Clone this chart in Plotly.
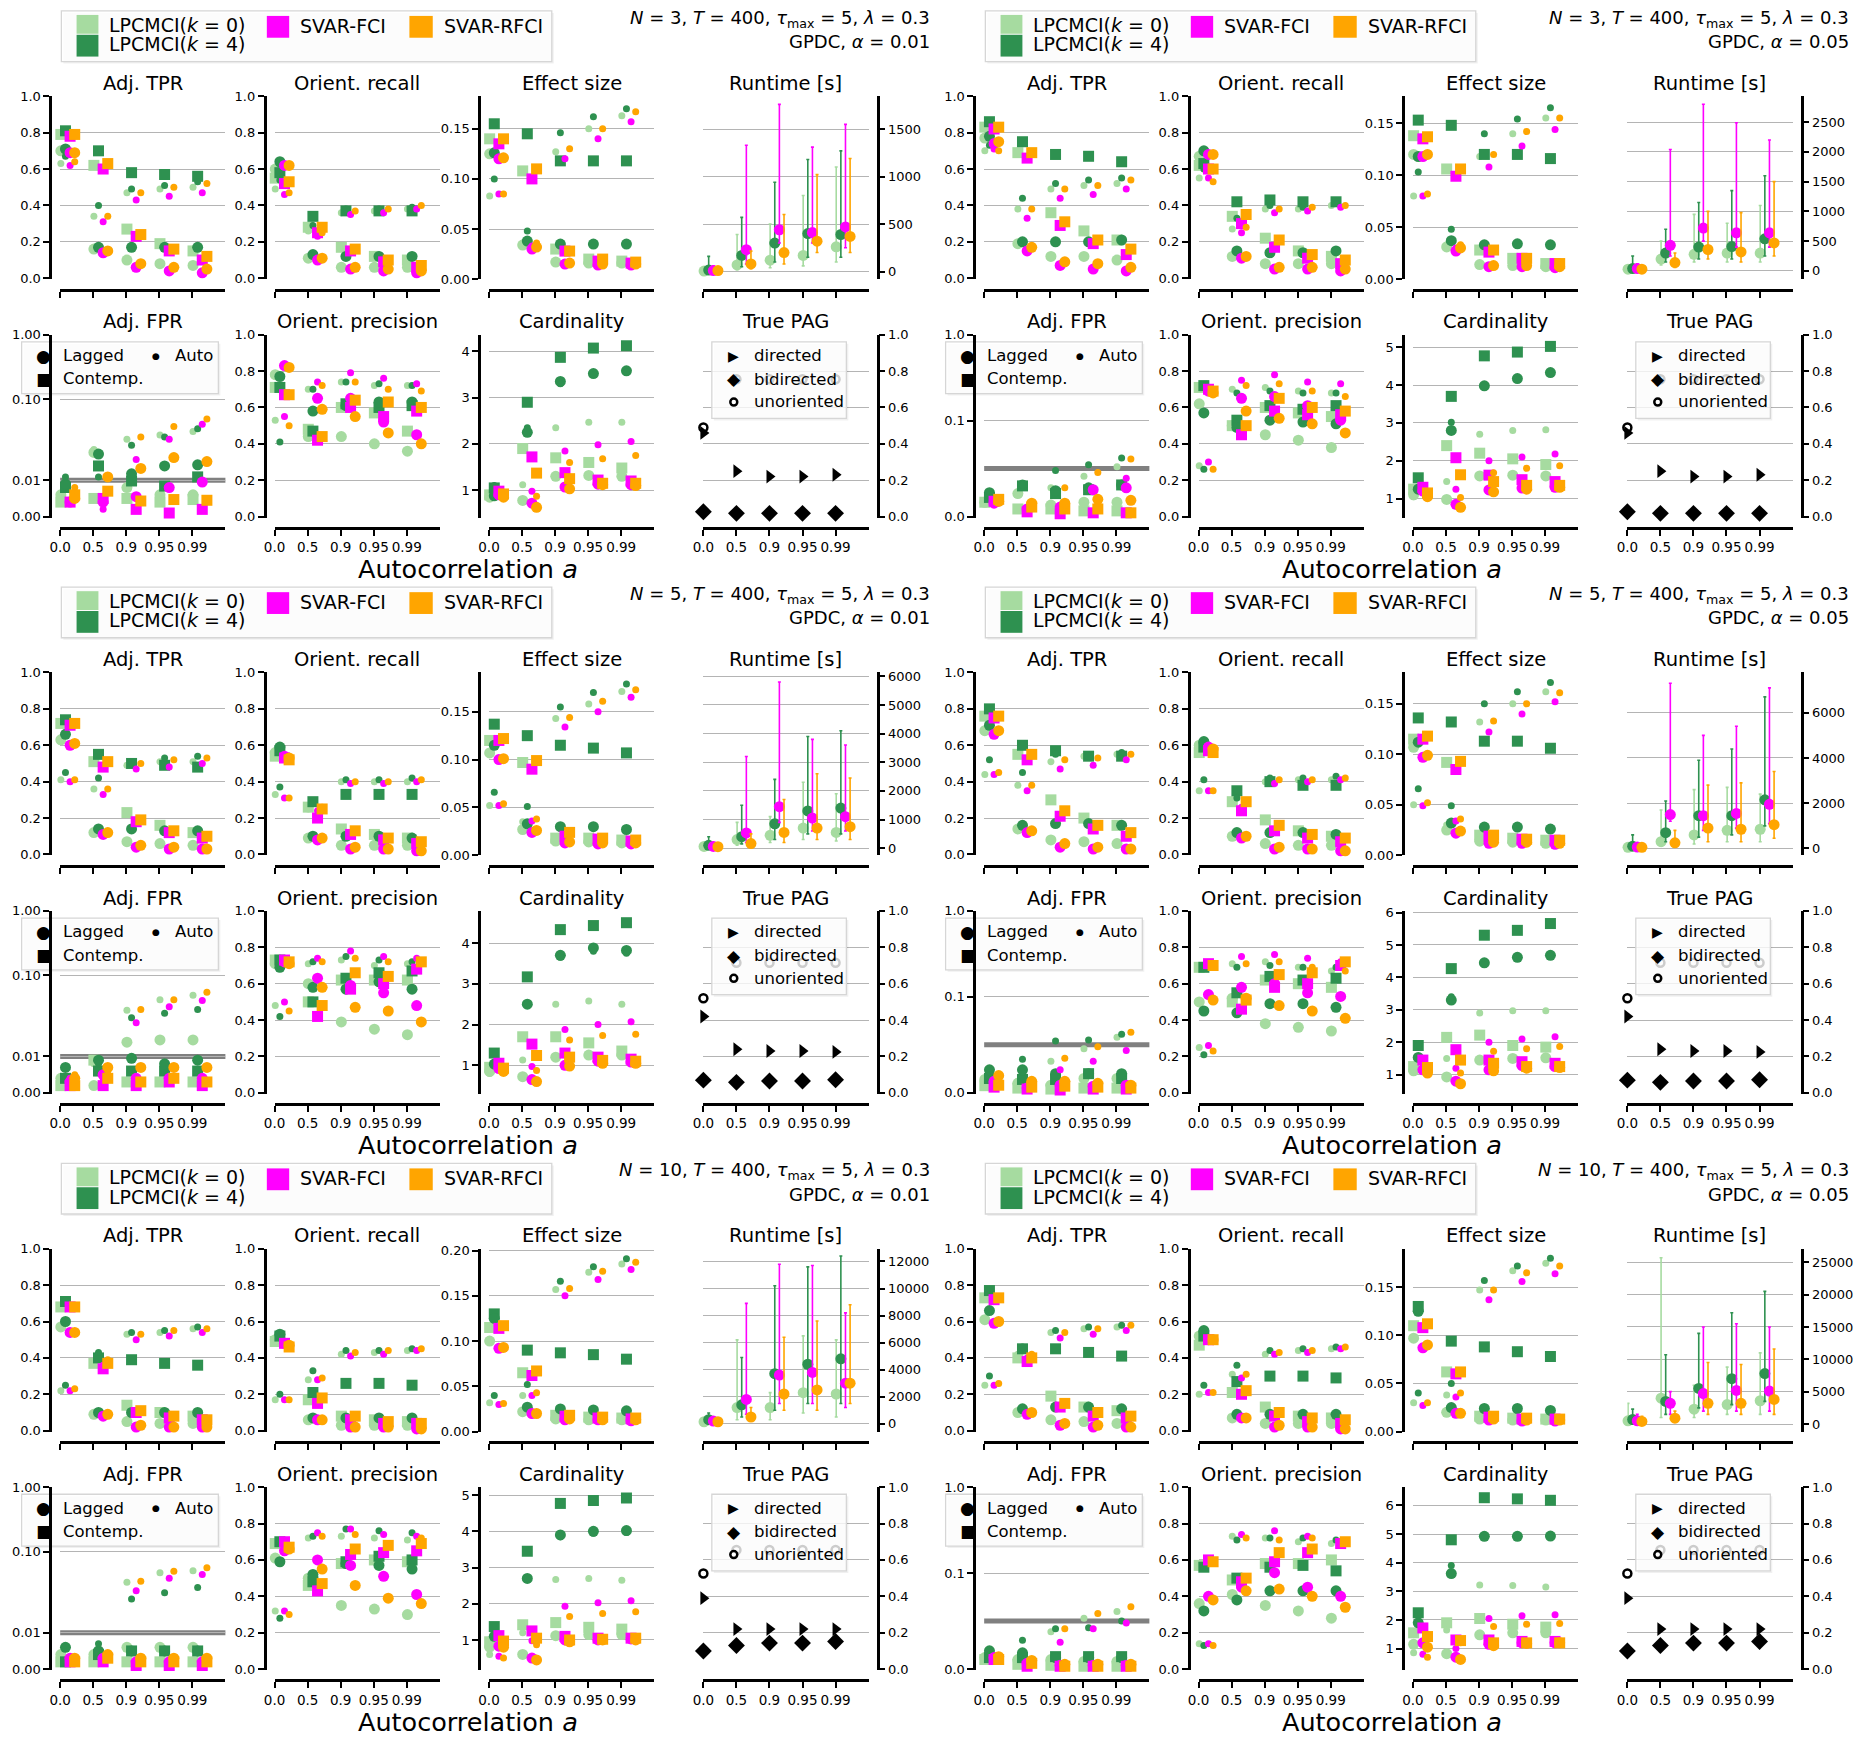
import numpy as np
import plotly.graph_objects as go

W, H = 1853, 1740
FONT = "DejaVu Sans"

A_LABELS = ["0.0", "0.5", "0.9", "0.95", "0.99"]
METHOD_NAMES = ["LPCMCI(<i>k</i> = 0)", "LPCMCI(<i>k</i> = 4)", "SVAR-FCI", "SVAR-RFCI"]
METHOD_COLORS = ["#a6dba0", "#2e9150", "#ff00ff", "#ffa500"]
METHOD_SHIFT = [0.02, 0.16, 0.30, 0.44]

# rows: LPCMCI(k=0), LPCMCI(k=4), SVAR-FCI, SVAR-RFCI ; columns: a = 0.0, 0.5, 0.9, 0.95, 0.99

#%% N=3, alpha=0.01
N3_A01_TPR_LAG = [[0.70, 0.16, 0.10, 0.08, 0.07], [0.71, 0.17, 0.17, 0.17, 0.17], [0.69, 0.14, 0.06, 0.04, 0.03], [0.69, 0.15, 0.08, 0.06, 0.05]]
N3_A01_TPR_CON = [[0.79, 0.62, 0.27, 0.19, 0.15], [0.81, 0.70, 0.58, 0.57, 0.56], [0.78, 0.60, 0.23, 0.15, 0.10], [0.79, 0.63, 0.24, 0.16, 0.12]]
N3_A01_TPR_AUTO = [[0.63, 0.34, 0.47, 0.49, 0.50], [0.67, 0.40, 0.49, 0.51, 0.53], [0.62, 0.31, 0.43, 0.45, 0.47], [0.64, 0.34, 0.47, 0.50, 0.52]]
N3_A01_REC_LAG = [[0.60, 0.11, 0.06, 0.06, 0.06], [0.64, 0.13, 0.12, 0.12, 0.12], [0.62, 0.10, 0.05, 0.04, 0.03], [0.62, 0.11, 0.06, 0.05, 0.04]]
N3_A01_REC_CON = [[0.55, 0.28, 0.17, 0.12, 0.10], [0.58, 0.34, 0.37, 0.37, 0.37], [0.52, 0.25, 0.15, 0.09, 0.06], [0.53, 0.28, 0.16, 0.10, 0.07]]
N3_A01_REC_AUTO = [[0.49, 0.26, 0.36, 0.37, 0.38], [0.54, 0.29, 0.38, 0.38, 0.39], [0.46, 0.23, 0.35, 0.36, 0.38], [0.47, 0.25, 0.37, 0.38, 0.40]]
N3_A01_EFF_LAG = [[0.125, 0.034, 0.017, 0.016, 0.016], [0.126, 0.038, 0.035, 0.035, 0.035], [0.120, 0.030, 0.015, 0.014, 0.014], [0.121, 0.032, 0.016, 0.015, 0.015]]
N3_A01_EFF_CON = [[0.140, 0.108, 0.030, 0.020, 0.018], [0.155, 0.145, 0.118, 0.118, 0.118], [0.135, 0.100, 0.028, 0.018, 0.016], [0.140, 0.110, 0.028, 0.020, 0.017]]
N3_A01_EFF_AUTO = [[0.083, 0.036, 0.127, 0.150, 0.163], [0.100, 0.048, 0.146, 0.162, 0.170], [0.085, 0.033, 0.120, 0.140, 0.157], [0.085, 0.036, 0.130, 0.150, 0.167]]
N3_A01_RT_MEAN = [[5, 70, 120, 170, 260], [15, 170, 300, 400, 390], [10, 230, 440, 410, 470], [10, 80, 200, 320, 370]]
N3_A01_RT_HI = [[40, 390, 500, 800, 1100], [160, 570, 940, 1180, 1270], [60, 1330, 1760, 1310, 1550], [40, 215, 600, 1020, 1190]]
N3_A01_RT_LO = [[0, 20, 40, 60, 100], [0, 50, 100, 150, 150], [0, 80, 300, 300, 250], [0, 30, 80, 200, 200]]
N3_A01_FPR_LAG = [[0.006, 0.022, 0.008, 0.006, 0.006], [0.009, 0.021, 0.012, 0.015, 0.0155], [0.004, 0.004, 0.0055, 0.008, 0.0095], [0.005, 0.011, 0.014, 0.019, 0.017]]
N3_A01_FPR_CON = [[0.004, 0.005, 0.005, 0.004, 0.0047], [0.008, 0.015, 0.0098, 0.0084, 0.011], [0.004, 0.005, 0.002, 0.001, 0.002], [0.006, 0.007, 0.0043, 0.0047, 0.0045]]
N3_A01_FPR_AUTO = [[0.005, 0.024, 0.032, 0.036, 0.040], [0.011, 0.011, 0.027, 0.034, 0.043], [0.004, 0.002, 0.018, 0.032, 0.049], [0.008, 0.007, 0.034, 0.046, 0.057]]
N3_A01_PREC_LAG = [[0.78, 0.44, 0.44, 0.40, 0.36], [0.77, 0.58, 0.61, 0.63, 0.63], [0.83, 0.65, 0.65, 0.52, 0.45], [0.82, 0.59, 0.55, 0.46, 0.40]]
N3_A01_PREC_CON = [[0.71, 0.48, 0.60, 0.57, 0.47], [0.71, 0.47, 0.62, 0.60, 0.61], [0.67, 0.42, 0.60, 0.55, 0.58], [0.67, 0.44, 0.64, 0.63, 0.60]]
N3_A01_PREC_AUTO = [[0.53, 0.70, 0.74, 0.72, 0.72], [0.41, 0.70, 0.74, 0.73, 0.72], [0.55, 0.74, 0.79, 0.76, 0.73], [0.50, 0.72, 0.74, 0.70, 0.69]]
N3_A01_CARD_LAG = [[0.85, 0.78, 1.30, 1.32, 1.30], [0.88, 2.25, 3.35, 3.52, 3.58], [0.90, 0.72, 1.07, 1.13, 1.12], [0.85, 0.63, 1.03, 1.12, 1.10]]
N3_A01_CARD_CON = [[0.90, 1.90, 1.70, 1.60, 1.48], [1.05, 2.90, 3.87, 4.07, 4.12], [0.98, 1.72, 1.38, 1.22, 1.20], [0.92, 1.37, 1.25, 1.15, 1.15]]
N3_A01_CARD_AUTO = [[0.85, 1.12, 2.35, 2.47, 2.47], [1.10, 2.35, 3.30, 3.50, 3.55], [0.90, 0.98, 1.85, 1.98, 2.05], [0.86, 0.87, 1.60, 1.68, 1.75]]

#%% N=3, alpha=0.05
N3_A05_TPR_LAG = [[0.77, 0.19, 0.12, 0.12, 0.10], [0.78, 0.20, 0.20, 0.20, 0.21], [0.74, 0.15, 0.07, 0.05, 0.04], [0.75, 0.17, 0.09, 0.08, 0.06]]
N3_A05_TPR_CON = [[0.83, 0.69, 0.36, 0.26, 0.21], [0.86, 0.75, 0.68, 0.67, 0.64], [0.82, 0.66, 0.29, 0.19, 0.13], [0.83, 0.69, 0.31, 0.21, 0.16]]
N3_A05_TPR_AUTO = [[0.70, 0.38, 0.49, 0.51, 0.52], [0.73, 0.44, 0.52, 0.54, 0.55], [0.71, 0.33, 0.44, 0.46, 0.49], [0.70, 0.38, 0.49, 0.51, 0.54]]
N3_A05_REC_LAG = [[0.67, 0.12, 0.08, 0.08, 0.08], [0.70, 0.15, 0.14, 0.14, 0.15], [0.68, 0.11, 0.05, 0.05, 0.04], [0.68, 0.12, 0.06, 0.06, 0.05]]
N3_A05_REC_CON = [[0.62, 0.34, 0.22, 0.15, 0.12], [0.63, 0.42, 0.43, 0.42, 0.42], [0.60, 0.30, 0.17, 0.11, 0.08], [0.60, 0.35, 0.21, 0.13, 0.10]]
N3_A05_REC_AUTO = [[0.55, 0.27, 0.38, 0.38, 0.40], [0.60, 0.33, 0.40, 0.39, 0.41], [0.55, 0.25, 0.36, 0.37, 0.39], [0.53, 0.28, 0.38, 0.39, 0.40]]
N3_A05_EFF_LAG = [[0.120, 0.031, 0.014, 0.013, 0.012], [0.118, 0.037, 0.033, 0.034, 0.033], [0.118, 0.027, 0.012, 0.012, 0.011], [0.120, 0.030, 0.013, 0.013, 0.012]]
N3_A05_EFF_CON = [[0.138, 0.106, 0.028, 0.020, 0.015], [0.153, 0.148, 0.120, 0.120, 0.116], [0.135, 0.099, 0.026, 0.020, 0.015], [0.137, 0.106, 0.028, 0.020, 0.015]]
N3_A05_EFF_AUTO = [[0.080, 0.033, 0.118, 0.140, 0.155], [0.103, 0.048, 0.140, 0.154, 0.165], [0.080, 0.030, 0.108, 0.128, 0.144], [0.082, 0.033, 0.120, 0.142, 0.155]]
N3_A05_RT_MEAN = [[30, 200, 280, 300, 300], [40, 300, 400, 410, 540], [40, 430, 720, 640, 640], [30, 140, 360, 320, 470]]
N3_A05_RT_HI = [[80, 500, 950, 800, 1100], [250, 700, 1150, 1350, 1600], [120, 2040, 2800, 2490, 2200], [80, 300, 1000, 980, 1500]]
N3_A05_RT_LO = [[0, 100, 150, 150, 150], [0, 150, 200, 200, 250], [0, 250, 500, 400, 400], [0, 60, 200, 150, 250]]
N3_A05_FPR_LAG = [[0.015, 0.024, 0.012, 0.015, 0.015], [0.025, 0.033, 0.027, 0.030, 0.033], [0.014, 0.008, 0.010, 0.028, 0.030], [0.016, 0.014, 0.014, 0.018, 0.017]]
N3_A05_FPR_CON = [[0.015, 0.008, 0.008, 0.006, 0.006], [0.020, 0.032, 0.024, 0.028, 0.033], [0.016, 0.005, 0.003, 0.004, 0.004], [0.018, 0.010, 0.008, 0.008, 0.004]]
N3_A05_FPR_AUTO = [[0.017, 0.025, 0.030, 0.042, 0.052], [0.020, 0.033, 0.048, 0.054, 0.061], [0.015, 0.006, 0.010, 0.027, 0.040], [0.020, 0.014, 0.030, 0.046, 0.060]]
N3_A05_PREC_LAG = [[0.62, 0.50, 0.45, 0.42, 0.38], [0.57, 0.49, 0.53, 0.52, 0.51], [0.69, 0.65, 0.66, 0.61, 0.53], [0.68, 0.58, 0.54, 0.51, 0.46]]
N3_A05_PREC_CON = [[0.71, 0.50, 0.60, 0.57, 0.55], [0.72, 0.53, 0.61, 0.59, 0.61], [0.70, 0.45, 0.58, 0.56, 0.56], [0.69, 0.50, 0.65, 0.60, 0.58]]
N3_A05_PREC_AUTO = [[0.28, 0.70, 0.71, 0.69, 0.68], [0.26, 0.68, 0.69, 0.68, 0.68], [0.30, 0.75, 0.78, 0.74, 0.73], [0.26, 0.72, 0.73, 0.69, 0.66]]
N3_A05_CARD_LAG = [[1.10, 0.98, 1.60, 1.62, 1.60], [1.25, 2.80, 3.98, 4.17, 4.33], [1.20, 0.85, 1.23, 1.28, 1.30], [1.05, 0.77, 1.18, 1.25, 1.30]]
N3_A05_CARD_CON = [[1.25, 2.40, 2.20, 2.05, 1.90], [1.55, 3.70, 4.77, 4.87, 5.02], [1.30, 2.08, 1.62, 1.50, 1.45], [1.15, 1.63, 1.45, 1.35, 1.35]]
N3_A05_CARD_AUTO = [[1.05, 1.45, 2.70, 2.80, 2.82], [1.30, 3.02, 3.95, 4.15, 4.30], [1.20, 1.25, 2.00, 2.10, 2.18], [1.10, 1.03, 1.68, 1.80, 1.87]]

#%% N=5, alpha=0.01
N5_A01_TPR_LAG = [[0.63, 0.12, 0.07, 0.06, 0.05], [0.66, 0.14, 0.14, 0.13, 0.13], [0.60, 0.11, 0.04, 0.03, 0.03], [0.61, 0.12, 0.05, 0.04, 0.03]]
N5_A01_TPR_CON = [[0.72, 0.51, 0.23, 0.16, 0.12], [0.74, 0.55, 0.50, 0.49, 0.48], [0.71, 0.48, 0.18, 0.12, 0.09], [0.72, 0.51, 0.19, 0.13, 0.10]]
N5_A01_TPR_AUTO = [[0.41, 0.36, 0.49, 0.51, 0.51], [0.45, 0.42, 0.51, 0.53, 0.54], [0.40, 0.33, 0.47, 0.48, 0.50], [0.41, 0.36, 0.50, 0.52, 0.53]]
N5_A01_REC_LAG = [[0.56, 0.09, 0.05, 0.05, 0.05], [0.59, 0.10, 0.10, 0.10, 0.09], [0.54, 0.08, 0.03, 0.03, 0.02], [0.53, 0.09, 0.04, 0.03, 0.02]]
N5_A01_REC_CON = [[0.54, 0.26, 0.14, 0.11, 0.09], [0.57, 0.29, 0.33, 0.33, 0.33], [0.53, 0.20, 0.11, 0.08, 0.06], [0.52, 0.25, 0.13, 0.09, 0.07]]
N5_A01_REC_AUTO = [[0.33, 0.25, 0.40, 0.40, 0.40], [0.37, 0.28, 0.41, 0.41, 0.42], [0.31, 0.24, 0.39, 0.39, 0.40], [0.31, 0.26, 0.40, 0.40, 0.41]]
N5_A01_EFF_LAG = [[0.107, 0.027, 0.015, 0.014, 0.013], [0.115, 0.033, 0.030, 0.030, 0.027], [0.100, 0.024, 0.013, 0.012, 0.012], [0.101, 0.026, 0.014, 0.013, 0.013]]
N5_A01_EFF_CON = [[0.120, 0.097, 0.018, 0.018, 0.016], [0.137, 0.125, 0.115, 0.112, 0.107], [0.120, 0.090, 0.020, 0.017, 0.015], [0.122, 0.099, 0.024, 0.018, 0.016]]
N5_A01_EFF_AUTO = [[0.052, 0.035, 0.143, 0.158, 0.171], [0.066, 0.051, 0.155, 0.170, 0.179], [0.052, 0.036, 0.134, 0.150, 0.165], [0.054, 0.038, 0.144, 0.161, 0.173]]
N5_A01_RT_MEAN = [[60, 300, 450, 700, 550], [100, 400, 850, 1300, 1400], [60, 530, 1450, 1050, 1100], [50, 160, 550, 700, 750]]
N5_A01_RT_HI = [[150, 900, 1100, 2300, 1900], [400, 1500, 2400, 3900, 4100], [200, 3200, 5800, 3800, 3600], [150, 500, 1700, 2600, 2450]]
N5_A01_RT_LO = [[0, 100, 200, 300, 250], [0, 150, 300, 500, 500], [0, 200, 900, 600, 600], [0, 50, 200, 300, 300]]
N5_A01_FPR_LAG = [[0.004, 0.002, 0.015, 0.016, 0.016], [0.007, 0.009, 0.0095, 0.008, 0.009], [0.003, 0.005, 0.004, 0.004, 0.004], [0.004, 0.007, 0.007, 0.007, 0.007]]
N5_A01_FPR_CON = [[0.002, 0.009, 0.003, 0.003, 0.003], [0.004, 0.006, 0.006, 0.006, 0.006], [0.002, 0.002, 0.002, 0.003, 0.002], [0.002, 0.004, 0.003, 0.004, 0.003]]
N5_A01_FPR_AUTO = [[0.004, 0.008, 0.037, 0.050, 0.057], [0.007, 0.008, 0.030, 0.034, 0.038], [0.004, 0.004, 0.026, 0.041, 0.049], [0.005, 0.006, 0.038, 0.050, 0.062]]
N5_A01_PREC_LAG = [[0.71, 0.60, 0.39, 0.35, 0.32], [0.69, 0.58, 0.57, 0.61, 0.57], [0.72, 0.63, 0.59, 0.55, 0.48], [0.71, 0.58, 0.47, 0.45, 0.39]]
N5_A01_PREC_CON = [[0.73, 0.50, 0.62, 0.62, 0.62], [0.73, 0.50, 0.63, 0.66, 0.67], [0.73, 0.42, 0.57, 0.60, 0.68], [0.72, 0.48, 0.66, 0.64, 0.72]]
N5_A01_PREC_AUTO = [[0.48, 0.71, 0.73, 0.70, 0.71], [0.42, 0.72, 0.75, 0.73, 0.72], [0.50, 0.74, 0.78, 0.75, 0.74], [0.45, 0.72, 0.74, 0.72, 0.71]]
N5_A01_CARD_LAG = [[0.85, 0.72, 1.20, 1.25, 1.25], [1.03, 2.50, 3.70, 3.88, 3.82], [0.92, 0.65, 1.00, 1.10, 1.08], [0.85, 0.60, 0.98, 1.05, 1.05]]
N5_A01_CARD_CON = [[0.95, 1.70, 1.70, 1.55, 1.35], [1.30, 3.17, 4.33, 4.43, 4.50], [1.05, 1.52, 1.30, 1.20, 1.15], [0.93, 1.24, 1.20, 1.12, 1.10]]
N5_A01_CARD_AUTO = [[0.80, 1.13, 2.50, 2.58, 2.50], [1.05, 2.50, 3.65, 3.80, 3.75], [0.90, 0.97, 1.88, 2.00, 2.07], [0.85, 0.87, 1.62, 1.73, 1.76]]

#%% N=5, alpha=0.05
N5_A05_TPR_LAG = [[0.68, 0.14, 0.08, 0.07, 0.06], [0.71, 0.16, 0.17, 0.17, 0.16], [0.66, 0.12, 0.04, 0.03, 0.03], [0.68, 0.13, 0.06, 0.04, 0.03]]
N5_A05_TPR_CON = [[0.76, 0.55, 0.30, 0.20, 0.16], [0.80, 0.60, 0.57, 0.54, 0.54], [0.75, 0.52, 0.21, 0.14, 0.10], [0.76, 0.55, 0.24, 0.16, 0.12]]
N5_A05_TPR_AUTO = [[0.44, 0.38, 0.51, 0.54, 0.55], [0.52, 0.45, 0.55, 0.54, 0.56], [0.44, 0.35, 0.47, 0.49, 0.52], [0.45, 0.38, 0.52, 0.53, 0.55]]
N5_A05_REC_LAG = [[0.60, 0.10, 0.06, 0.05, 0.05], [0.62, 0.12, 0.12, 0.12, 0.11], [0.59, 0.09, 0.03, 0.03, 0.02], [0.58, 0.10, 0.04, 0.03, 0.02]]
N5_A05_REC_CON = [[0.56, 0.29, 0.19, 0.13, 0.10], [0.59, 0.35, 0.40, 0.38, 0.38], [0.57, 0.24, 0.13, 0.09, 0.07], [0.56, 0.29, 0.16, 0.11, 0.09]]
N5_A05_REC_AUTO = [[0.35, 0.28, 0.40, 0.41, 0.41], [0.41, 0.31, 0.42, 0.42, 0.43], [0.35, 0.26, 0.39, 0.40, 0.41], [0.35, 0.28, 0.41, 0.41, 0.42]]
N5_A05_EFF_LAG = [[0.107, 0.025, 0.014, 0.013, 0.012], [0.112, 0.032, 0.028, 0.028, 0.026], [0.097, 0.022, 0.012, 0.012, 0.011], [0.099, 0.024, 0.013, 0.013, 0.012]]
N5_A05_EFF_CON = [[0.115, 0.092, 0.020, 0.017, 0.015], [0.136, 0.132, 0.113, 0.113, 0.106], [0.115, 0.085, 0.019, 0.016, 0.015], [0.118, 0.093, 0.020, 0.016, 0.015]]
N5_A05_EFF_AUTO = [[0.050, 0.030, 0.132, 0.150, 0.162], [0.066, 0.049, 0.150, 0.162, 0.171], [0.049, 0.034, 0.122, 0.140, 0.152], [0.052, 0.036, 0.133, 0.150, 0.161]]
N5_A05_RT_MEAN = [[50, 300, 600, 800, 850], [100, 700, 1450, 1450, 2150], [60, 1500, 1450, 1550, 1950], [50, 250, 900, 850, 1050]]
N5_A05_RT_HI = [[200, 1700, 2600, 2700, 2400], [600, 2100, 3900, 4400, 6700], [250, 7300, 5000, 5400, 7100], [150, 800, 2800, 2900, 3400]]
N5_A05_RT_LO = [[0, 100, 200, 300, 300], [0, 300, 500, 600, 1000], [0, 1200, 800, 900, 1100], [0, 100, 300, 300, 450]]
N5_A05_FPR_LAG = [[0.014, 0.010, 0.008, 0.015, 0.015], [0.024, 0.024, 0.020, 0.020, 0.020], [0.012, 0.005, 0.008, 0.007, 0.008], [0.018, 0.012, 0.012, 0.010, 0.008]]
N5_A05_FPR_CON = [[0.0075, 0.005, 0.004, 0.005, 0.005], [0.015, 0.014, 0.014, 0.020, 0.015], [0.006, 0.004, 0.003, 0.004, 0.004], [0.008, 0.006, 0.007, 0.006, 0.005]]
N5_A05_FPR_AUTO = [[0.012, 0.012, 0.033, 0.046, 0.058], [0.015, 0.035, 0.054, 0.055, 0.061], [0.012, 0.006, 0.024, 0.033, 0.044], [0.014, 0.012, 0.036, 0.048, 0.063]]
N5_A05_PREC_LAG = [[0.50, 0.52, 0.38, 0.36, 0.34], [0.45, 0.44, 0.49, 0.49, 0.47], [0.54, 0.58, 0.60, 0.55, 0.53], [0.51, 0.52, 0.48, 0.45, 0.41]]
N5_A05_PREC_CON = [[0.69, 0.50, 0.62, 0.60, 0.58], [0.69, 0.55, 0.64, 0.62, 0.63], [0.71, 0.46, 0.58, 0.60, 0.70], [0.70, 0.51, 0.65, 0.66, 0.72]]
N5_A05_PREC_AUTO = [[0.25, 0.71, 0.72, 0.69, 0.67], [0.21, 0.69, 0.70, 0.69, 0.69], [0.26, 0.75, 0.76, 0.74, 0.72], [0.23, 0.71, 0.72, 0.69, 0.67]]
N5_A05_CARD_LAG = [[1.12, 0.93, 1.45, 1.50, 1.52], [1.53, 3.30, 4.45, 4.62, 4.68], [1.15, 0.80, 1.15, 1.28, 1.25], [1.05, 0.72, 1.12, 1.20, 1.22]]
N5_A05_CARD_CON = [[1.25, 2.15, 2.22, 1.90, 1.85], [1.90, 4.27, 5.30, 5.45, 5.66], [1.45, 1.77, 1.45, 1.40, 1.35], [1.22, 1.45, 1.35, 1.25, 1.25]]
N5_A05_CARD_AUTO = [[1.15, 1.50, 2.90, 2.97, 2.97], [1.90, 3.40, 4.40, 4.60, 4.65], [1.20, 1.20, 2.00, 2.10, 2.17], [1.10, 1.05, 1.72, 1.80, 1.87]]

#%% N=10, alpha=0.01
N10_A01_TPR_LAG = [[0.57, 0.09, 0.05, 0.04, 0.04], [0.60, 0.10, 0.10, 0.10, 0.10], [0.54, 0.08, 0.02, 0.02, 0.02], [0.54, 0.09, 0.03, 0.02, 0.02]]
N10_A01_TPR_CON = [[0.68, 0.37, 0.14, 0.10, 0.08], [0.71, 0.40, 0.39, 0.37, 0.36], [0.68, 0.34, 0.10, 0.07, 0.06], [0.68, 0.37, 0.11, 0.08, 0.06]]
N10_A01_TPR_AUTO = [[0.22, 0.38, 0.53, 0.54, 0.56], [0.25, 0.43, 0.54, 0.55, 0.57], [0.22, 0.36, 0.50, 0.52, 0.54], [0.23, 0.39, 0.53, 0.55, 0.56]]
N10_A01_REC_LAG = [[0.50, 0.06, 0.03, 0.03, 0.03], [0.53, 0.07, 0.07, 0.07, 0.07], [0.48, 0.06, 0.02, 0.02, 0.01], [0.47, 0.06, 0.02, 0.02, 0.01]]
N10_A01_REC_CON = [[0.49, 0.17, 0.08, 0.06, 0.05], [0.52, 0.21, 0.26, 0.26, 0.25], [0.48, 0.15, 0.06, 0.04, 0.04], [0.46, 0.18, 0.08, 0.05, 0.04]]
N10_A01_REC_AUTO = [[0.17, 0.28, 0.42, 0.43, 0.44], [0.20, 0.33, 0.44, 0.44, 0.45], [0.17, 0.28, 0.41, 0.42, 0.44], [0.17, 0.29, 0.43, 0.44, 0.45]]
N10_A01_EFF_LAG = [[0.100, 0.022, 0.014, 0.013, 0.013], [0.125, 0.027, 0.025, 0.024, 0.023], [0.092, 0.020, 0.013, 0.013, 0.012], [0.093, 0.020, 0.014, 0.013, 0.013]]
N10_A01_EFF_CON = [[0.115, 0.065, 0.018, 0.016, 0.015], [0.130, 0.090, 0.087, 0.085, 0.080], [0.114, 0.062, 0.017, 0.015, 0.014], [0.117, 0.067, 0.018, 0.016, 0.015]]
N10_A01_EFF_AUTO = [[0.032, 0.040, 0.157, 0.176, 0.185], [0.040, 0.052, 0.166, 0.182, 0.191], [0.030, 0.040, 0.150, 0.168, 0.179], [0.031, 0.043, 0.158, 0.177, 0.187]]
N10_A01_RT_MEAN = [[150, 1200, 1200, 2300, 2200], [300, 1400, 3700, 4400, 4800], [200, 1800, 3600, 3800, 3000], [150, 500, 2200, 2500, 3000]]
N10_A01_RT_HI = [[400, 6200, 2300, 6500, 6200], [800, 4900, 10200, 11600, 12400], [500, 8900, 11800, 11700, 8200], [400, 1200, 6400, 7600, 8800]]
N10_A01_RT_LO = [[0, 300, 300, 800, 500], [0, 500, 1000, 1500, 1500], [0, 700, 1500, 1500, 1200], [0, 200, 1000, 1000, 1500]]
N10_A01_FPR_LAG = [[0.004, 0.004, 0.006, 0.006, 0.006], [0.006, 0.005, 0.005, 0.005, 0.005], [0.003, 0.003, 0.002, 0.002, 0.002], [0.003, 0.004, 0.003, 0.003, 0.003]]
N10_A01_FPR_CON = [[0.002, 0.002, 0.002, 0.002, 0.002], [0.002, 0.004, 0.005, 0.005, 0.005], [0.002, 0.002, 0.001, 0.001, 0.001], [0.002, 0.003, 0.002, 0.002, 0.002]]
N10_A01_FPR_AUTO = [[0.004, 0.004, 0.042, 0.055, 0.058], [0.006, 0.007, 0.026, 0.031, 0.036], [0.003, 0.003, 0.033, 0.047, 0.052], [0.003, 0.004, 0.043, 0.057, 0.063]]
N10_A01_PREC_LAG = [[0.61, 0.50, 0.35, 0.33, 0.30], [0.59, 0.52, 0.58, 0.57, 0.55], [0.65, 0.60, 0.57, 0.51, 0.41], [0.66, 0.55, 0.46, 0.39, 0.36]]
N10_A01_PREC_CON = [[0.69, 0.46, 0.58, 0.60, 0.59], [0.70, 0.48, 0.59, 0.62, 0.60], [0.70, 0.43, 0.63, 0.64, 0.65], [0.67, 0.47, 0.66, 0.68, 0.69]]
N10_A01_PREC_AUTO = [[0.32, 0.72, 0.73, 0.72, 0.71], [0.28, 0.73, 0.77, 0.76, 0.75], [0.32, 0.75, 0.77, 0.74, 0.73], [0.30, 0.73, 0.74, 0.69, 0.72]]
N10_A01_CARD_LAG = [[0.80, 0.60, 1.12, 1.15, 1.15], [1.10, 2.70, 3.90, 4.00, 4.02], [0.83, 0.50, 1.00, 1.00, 1.03], [0.80, 0.45, 0.95, 1.00, 1.00]]
N10_A01_CARD_CON = [[0.95, 1.42, 1.48, 1.35, 1.30], [1.37, 3.45, 4.77, 4.85, 4.92], [1.12, 1.25, 1.10, 1.05, 1.05], [0.97, 1.05, 1.00, 1.02, 1.05]]
N10_A01_CARD_AUTO = [[0.60, 1.20, 2.67, 2.70, 2.65], [1.10, 2.70, 3.85, 3.95, 3.97], [0.55, 0.98, 1.93, 2.03, 2.08], [0.50, 0.87, 1.65, 1.73, 1.78]]

#%% N=10, alpha=0.05
N10_A05_TPR_LAG = [[0.61, 0.10, 0.06, 0.05, 0.04], [0.66, 0.12, 0.13, 0.13, 0.12], [0.59, 0.09, 0.03, 0.02, 0.02], [0.60, 0.10, 0.04, 0.03, 0.02]]
N10_A05_TPR_CON = [[0.73, 0.40, 0.19, 0.13, 0.11], [0.77, 0.45, 0.45, 0.43, 0.41], [0.72, 0.38, 0.13, 0.08, 0.07], [0.73, 0.40, 0.15, 0.10, 0.08]]
N10_A05_TPR_AUTO = [[0.25, 0.42, 0.54, 0.56, 0.57], [0.30, 0.46, 0.55, 0.57, 0.58], [0.25, 0.40, 0.51, 0.53, 0.55], [0.26, 0.42, 0.54, 0.56, 0.58]]
N10_A05_REC_LAG = [[0.52, 0.07, 0.04, 0.04, 0.04], [0.55, 0.09, 0.09, 0.09, 0.09], [0.50, 0.07, 0.02, 0.02, 0.01], [0.50, 0.07, 0.03, 0.02, 0.01]]
N10_A05_REC_CON = [[0.47, 0.21, 0.13, 0.08, 0.07], [0.52, 0.27, 0.30, 0.30, 0.29], [0.50, 0.20, 0.08, 0.05, 0.04], [0.50, 0.22, 0.10, 0.07, 0.06]]
N10_A05_REC_AUTO = [[0.20, 0.31, 0.42, 0.44, 0.45], [0.25, 0.36, 0.44, 0.45, 0.46], [0.21, 0.29, 0.42, 0.43, 0.45], [0.21, 0.31, 0.43, 0.44, 0.46]]
N10_A05_EFF_LAG = [[0.097, 0.020, 0.013, 0.012, 0.012], [0.125, 0.025, 0.024, 0.024, 0.022], [0.087, 0.019, 0.012, 0.011, 0.011], [0.090, 0.019, 0.013, 0.012, 0.012]]
N10_A05_EFF_CON = [[0.110, 0.062, 0.016, 0.014, 0.013], [0.130, 0.094, 0.088, 0.083, 0.078], [0.108, 0.060, 0.015, 0.013, 0.013], [0.112, 0.062, 0.016, 0.014, 0.013]]
N10_A05_EFF_AUTO = [[0.030, 0.038, 0.147, 0.167, 0.175], [0.040, 0.050, 0.157, 0.172, 0.180], [0.027, 0.036, 0.137, 0.156, 0.164], [0.030, 0.040, 0.147, 0.165, 0.172]]
N10_A05_RT_MEAN = [[500, 4000, 2300, 3000, 3600], [700, 3500, 5500, 7000, 7800], [500, 3200, 4700, 5200, 5100], [400, 900, 3200, 3200, 3800]]
N10_A05_RT_HI = [[3200, 25700, 6000, 8800, 11000], [2300, 10700, 14000, 17200, 20500], [1500, 5000, 15000, 15500, 15000], [1200, 2000, 9500, 9200, 11600]]
N10_A05_RT_LO = [[0, 1000, 1000, 1500, 1500], [0, 1500, 2500, 3000, 3500], [0, 1500, 2000, 2000, 2000], [0, 300, 1500, 1500, 1500]]
N10_A05_FPR_LAG = [[0.012, 0.010, 0.010, 0.008, 0.008], [0.019, 0.017, 0.012, 0.012, 0.012], [0.012, 0.006, 0.004, 0.004, 0.004], [0.013, 0.009, 0.005, 0.005, 0.005]]
N10_A05_FPR_CON = [[0.010, 0.005, 0.004, 0.003, 0.003], [0.012, 0.012, 0.013, 0.013, 0.013], [0.010, 0.003, 0.003, 0.003, 0.003], [0.010, 0.006, 0.003, 0.003, 0.003]]
N10_A05_FPR_AUTO = [[0.010, 0.008, 0.039, 0.053, 0.060], [0.015, 0.030, 0.042, 0.043, 0.050], [0.010, 0.005, 0.028, 0.042, 0.048], [0.012, 0.008, 0.042, 0.058, 0.065]]
N10_A05_PREC_LAG = [[0.36, 0.41, 0.35, 0.32, 0.28], [0.32, 0.38, 0.43, 0.43, 0.43], [0.40, 0.45, 0.53, 0.45, 0.40], [0.38, 0.43, 0.44, 0.40, 0.34]]
N10_A05_PREC_CON = [[0.57, 0.49, 0.58, 0.58, 0.60], [0.56, 0.50, 0.56, 0.57, 0.54], [0.60, 0.48, 0.59, 0.64, 0.69], [0.59, 0.50, 0.64, 0.66, 0.70]]
N10_A05_PREC_AUTO = [[0.14, 0.73, 0.72, 0.70, 0.69], [0.13, 0.71, 0.72, 0.72, 0.71], [0.14, 0.74, 0.76, 0.73, 0.70], [0.13, 0.72, 0.71, 0.72, 0.70]]
N10_A05_CARD_LAG = [[1.15, 0.82, 1.48, 1.55, 1.55], [1.90, 3.62, 4.92, 4.92, 4.93], [1.20, 0.70, 1.15, 1.20, 1.20], [1.05, 0.62, 1.10, 1.18, 1.20]]
N10_A05_CARD_CON = [[1.55, 1.90, 2.05, 1.85, 1.75], [2.25, 4.80, 6.27, 6.23, 6.18], [1.72, 1.30, 1.30, 1.25, 1.25], [1.42, 1.28, 1.20, 1.20, 1.20]]
N10_A05_CARD_AUTO = [[0.85, 1.65, 3.22, 3.20, 3.15], [1.90, 3.90, 4.95, 4.95, 4.95], [0.80, 1.00, 2.05, 2.15, 2.18], [0.70, 1.20, 1.77, 1.85, 1.88]]

#%% true PAG fractions
PAG_N3_DIR = [0.46, 0.25, 0.22, 0.22, 0.23]
PAG_N3_BI = [0.027, 0.018, 0.018, 0.018, 0.018]
PAG_N3_UN = [0.49, 0.755, 0.755, 0.755, 0.755]
PAG_N5_DIR = [0.42, 0.24, 0.23, 0.23, 0.225]
PAG_N5_BI = [0.07, 0.058, 0.065, 0.065, 0.072]
PAG_N5_UN = [0.52, 0.715, 0.715, 0.715, 0.715]
PAG_N10_DIR = [0.39, 0.22, 0.22, 0.22, 0.22]
PAG_N10_BI = [0.10, 0.13, 0.143, 0.143, 0.152]
PAG_N10_UN = [0.525, 0.655, 0.655, 0.655, 0.655]

#%% panel setup
g = globals()
PANELS = []
for N, alpha, tag, eff_top, eff_ticks, rt_range, rt_ticks, card_range, card_ticks in [
        (3, 0.01, "N3_A01", 0.1825, [0, 0.05, 0.10, 0.15], [-80, 1846], [0, 500, 1000, 1500], [0.41, 4.36], [1, 2, 3, 4]),
        (3, 0.05, "N3_A05", 0.176, [0, 0.05, 0.10, 0.15], [-138, 2936], [0, 500, 1000, 1500, 2000, 2500], [0.5, 5.33], [1, 2, 3, 4, 5]),
        (5, 0.01, "N5_A01", 0.191, [0, 0.05, 0.10, 0.15], [-252, 6135], [0, 1000, 2000, 3000, 4000, 5000, 6000], [0.30, 4.79], [1, 2, 3, 4]),
        (5, 0.05, "N5_A05", 0.181, [0, 0.05, 0.10, 0.15], [-305, 7780], [0, 2000, 4000, 6000], [0.41, 6.05], [1, 2, 3, 4, 5, 6]),
        (10, 0.01, "N10_A01", 0.202, [0, 0.05, 0.10, 0.15, 0.20], [-580, 12945], [0, 2000, 4000, 6000, 8000, 10000, 12000], [0.17, 5.22], [1, 2, 3, 4, 5]),
        (10, 0.05, "N10_A05", 0.19, [0, 0.05, 0.10, 0.15], [-1170, 27090], [0, 5000, 10000, 15000, 20000, 25000], [0.25, 6.64], [1, 2, 3, 4, 5, 6])]:
    PANELS.append(dict(
        N=N, alpha=alpha,
        metrics={k: tuple(g[f"{tag}_{k}_{t}"] for t in ("LAG", "CON", "AUTO")) for k in ("TPR", "REC", "EFF", "FPR", "PREC", "CARD")},
        rt=(g[f"{tag}_RT_MEAN"], g[f"{tag}_RT_HI"], g[f"{tag}_RT_LO"]),
        pag=(g[f"PAG_N{N}_DIR"], g[f"PAG_N{N}_BI"], g[f"PAG_N{N}_UN"]),
        eff_top=eff_top, eff_ticks=eff_ticks, rt_range=rt_range, rt_ticks=rt_ticks,
        card_range=card_range, card_ticks=card_ticks))


def fpr_pos(v, alpha):
    # symlog-like scale of the Adj. FPR panels: linear up to a threshold, log above
    v = np.asarray(v, dtype=float)
    if alpha == 0.01:
        lin, knots, pos = 0.01, [0.01, 0.1, 1.0], [0.2, 0.646, 1.0]
    else:
        lin, knots, pos = 0.1, [0.1, 1.0], [0.528, 1.0]
    logpart = np.interp(np.log10(np.maximum(v, 1e-9)), np.log10(knots), pos)
    return np.where(v <= lin, v / lin * pos[0], logpart)


layout = {}
traces = []
shapes = []
annotations = []
n_axes = [0]


def px(x):
    return x / W


def py(y):
    return 1 - y / H


def add_axes(x0, x1, ytop, ybot, side, yrange, yvals, ytext, xlabels):
    n_axes[0] += 1
    n = n_axes[0]
    sfx = "" if n == 1 else str(n)
    layout["xaxis" + sfx] = dict(
        domain=[px(x0), px(x1)], range=[0, 5], anchor="free", position=py(ybot + 10.5),
        tickvals=list(range(5)), ticktext=A_LABELS, showticklabels=xlabels,
        ticks="outside", ticklen=6, tickwidth=2, tickcolor="black",
        showline=True, linewidth=3, linecolor="black", showgrid=False, zeroline=False,
        tickfont=dict(size=13.5, color="black"), fixedrange=True)
    layout["yaxis" + sfx] = dict(
        domain=[py(ybot), py(ytop)], range=yrange, anchor="free",
        position=px(x0 - 10) if side == "left" else px(x1 + 9), side=side,
        tickvals=yvals, ticktext=ytext, ticks="outside", ticklen=6, tickwidth=2,
        tickcolor="black", showline=True, linewidth=2.5, linecolor="black",
        showgrid=True, gridcolor="#b4b4b4", gridwidth=1.2, zeroline=False,
        tickfont=dict(size=13, color="black"), fixedrange=True)
    return "x" + sfx, "y" + sfx


def text(x, y, s, size=18, xanchor="center"):
    annotations.append(dict(x=px(x), y=py(y), xref="paper", yref="paper", text=s,
                            showarrow=False, xanchor=xanchor, yanchor="middle",
                            font=dict(size=size, color="black", family=FONT)))


def box(x0, x1, y0, y1, layer="above"):
    shapes.append(dict(type="rect", xref="paper", yref="paper", x0=px(x0 + 2), x1=px(x1 + 2),
                       y0=py(y1 + 2), y1=py(y0 + 2), line=dict(width=0),
                       fillcolor="rgba(0,0,0,0.06)", layer=layer))
    shapes.append(dict(type="rect", xref="paper", yref="paper", x0=px(x0), x1=px(x1),
                       y0=py(y1), y1=py(y0), line=dict(color="#d6d6d6", width=1.3),
                       fillcolor="rgba(255,255,255,0.8)", layer=layer))


UNIT = [0, 0.2, 0.4, 0.6, 0.8, 1.0]
TOP_TITLES = ["Adj. TPR", "Orient. recall", "Effect size", "Runtime [s]"]
BOTTOM_TITLES = ["Adj. FPR", "Orient. precision", "Cardinality", "True PAG"]

for pi, P in enumerate(PANELS):
    ox = (pi % 2) * 930
    oy = (pi // 2) * 581.25
    alpha = P["alpha"]
    for row in range(2):
        ytop = oy + (90 if row == 0 else 330.5)
        ybot = ytop + 184.5
        for j in range(4):
            x0 = ox + 49.5 + 215.8 * j
            x1 = x0 + 166.3
            title = (TOP_TITLES if row == 0 else BOTTOM_TITLES)[j]
            text((x0 + x1) / 2, oy + (77 if row == 0 else 317.5), title, size=19.5)
            side = "right" if j == 3 else "left"
            key = [["TPR", "REC", "EFF", "RT"], ["FPR", "PREC", "CARD", "PAG"]][row][j]
            transform = (lambda v: np.asarray(v, dtype=float))
            if key in ("TPR", "REC", "PREC", "PAG"):
                yr, yv, yt = [-0.005, 1.0], UNIT, [f"{v:.1f}" for v in UNIT]
            elif key == "EFF":
                yr, yv, yt = [0, P["eff_top"]], P["eff_ticks"], [f"{v:.2f}" for v in P["eff_ticks"]]
            elif key == "RT":
                yr, yv, yt = P["rt_range"], P["rt_ticks"], [str(v) for v in P["rt_ticks"]]
            elif key == "CARD":
                yr, yv, yt = P["card_range"], P["card_ticks"], [str(v) for v in P["card_ticks"]]
            else:
                ticks = [0, 0.01, 0.1, 1.0] if alpha == 0.01 else [0, 0.1, 1.0]
                fmt = "{:.2f}" if alpha == 0.01 else "{:.1f}"
                yr, yv, yt = [-0.005, 1.0], list(fpr_pos(ticks, alpha)), [fmt.format(v) for v in ticks]
                transform = (lambda v, a=alpha: fpr_pos(v, a))
            xa, ya = add_axes(x0, x1, ytop, ybot, side, yr, yv, yt, row == 1)

            if key == "RT":
                mean, hi, lo = P["rt"]
                for m in range(4):
                    mu = np.array(mean[m], dtype=float)
                    traces.append(go.Scatter(
                        x=np.arange(5) + METHOD_SHIFT[m], y=mu, mode="markers",
                        marker=dict(symbol="circle", size=11, color=METHOD_COLORS[m]),
                        error_y=dict(type="data", symmetric=False, array=np.array(hi[m]) - mu,
                                     arrayminus=mu - np.array(lo[m]), color=METHOD_COLORS[m],
                                     thickness=1.6, width=1.5),
                        xaxis=xa, yaxis=ya, showlegend=False, cliponaxis=False, hoverinfo="skip"))
            elif key == "PAG":
                d, b, u = P["pag"]
                for vals, sym, size, lw in ((d, "triangle-right", 12, 0), (b, "diamond", 13, 0),
                                            (u, "circle-open", 8, 2.5)):
                    traces.append(go.Scatter(
                        x=list(range(5)), y=vals, mode="markers",
                        marker=dict(symbol=sym, size=size, color="black", line=dict(width=lw, color="black")),
                        xaxis=xa, yaxis=ya, showlegend=False, cliponaxis=False, hoverinfo="skip"))
            else:
                lag, con, auto = P["metrics"][key]
                for m in range(4):
                    xm = np.arange(5) + METHOD_SHIFT[m]
                    for vals, sym, size in ((con, "square", 11), (lag, "circle", 11), (auto, "circle", 7)):
                        traces.append(go.Scatter(
                            x=xm, y=transform(vals[m]), mode="markers",
                            marker=dict(symbol=sym, size=size, color=METHOD_COLORS[m], line=dict(width=0)),
                            xaxis=xa, yaxis=ya, showlegend=False, cliponaxis=False, hoverinfo="skip"))
                if key == "FPR":
                    yl = float(fpr_pos(alpha, alpha))
                    shapes.append(dict(type="line", xref=xa, yref=ya, x0=-0.08, x1=5.05, y0=yl, y1=yl,
                                       line=dict(color="#808080", width=5), layer="below"))

    # method legend
    box(ox + 50.7, ox + 544.3, oy + 4, oy + 55)
    for (x0, x1, y0, y1), c in zip([(66, 88, 8, 27), (66, 88, 28, 50), (257.5, 280, 9, 31), (401, 424.5, 9, 31)],
                                   METHOD_COLORS):
        shapes.append(dict(type="rect", xref="paper", yref="paper", x0=px(ox + x0), x1=px(ox + x1),
                           y0=py(oy + y1), y1=py(oy + y0), line=dict(width=0), fillcolor=c, layer="above"))
    for (tx, ty), name in zip([(97, 18), (97, 37.5), (289, 19), (433.5, 19)], METHOD_NAMES):
        text(ox + tx, oy + ty, name, size=19, xanchor="left")

    # parameter header
    text(min(ox + 927, W - 1), oy + 12,
         f"<i>N</i> = {P['N']}, <i>T</i> = 400, <i>τ</i><sub>max</sub> = 5, <i>λ</i> = 0.3", size=18, xanchor="right")
    text(min(ox + 927, W - 1), oy + 35, f"GPDC, <i>α</i> = {alpha}", size=18, xanchor="right")

    # link-type legend
    box(ox + 10.7, ox + 208.7, oy + 337.7, oy + 390, layer="below")
    text(ox + 32.8, oy + 351.7, "●", size=17)
    text(ox + 50.7, oy + 351.7, "Lagged", size=16.5, xanchor="left")
    text(ox + 146, oy + 351.7, "●", size=9)
    text(ox + 162.8, oy + 351.7, "Auto", size=16.5, xanchor="left")
    text(ox + 32.8, oy + 375, "■", size=17)
    text(ox + 50.7, oy + 375, "Contemp.", size=16.5, xanchor="left")

    # true-PAG legend
    box(ox + 705.4, ox + 840.8, oy + 337.7, oy + 415)
    text(ox + 727.5, oy + 351.7, "▶", size=14)
    text(ox + 745.4, oy + 351.7, "directed", size=16.5, xanchor="left")
    text(ox + 727.5, oy + 375.5, "◆", size=17)
    text(ox + 745.4, oy + 375.5, "bidirected", size=16.5, xanchor="left")
    shapes.append(dict(type="circle", xref="paper", yref="paper", x0=px(ox + 724), x1=px(ox + 731),
                       y0=py(oy + 402), y1=py(oy + 395), line=dict(color="black", width=2.5),
                       fillcolor="white", layer="above"))
    text(ox + 745.4, oy + 398.3, "unoriented", size=16.5, xanchor="left")

    text(ox + 460, oy + 567, "Autocorrelation <i>a</i>", size=25.5)

layout.update(dict(
    width=W, height=H, margin=dict(l=0, r=0, t=0, b=0),
    paper_bgcolor="white", plot_bgcolor="white",
    font=dict(family=FONT, color="black"),
    shapes=shapes, annotations=annotations, showlegend=False))

fig = go.Figure(data=traces, layout=layout)
fig.write_html("out.html", config={"displayModeBar": False},
               post_script="document.body.style.margin = '0px';")
